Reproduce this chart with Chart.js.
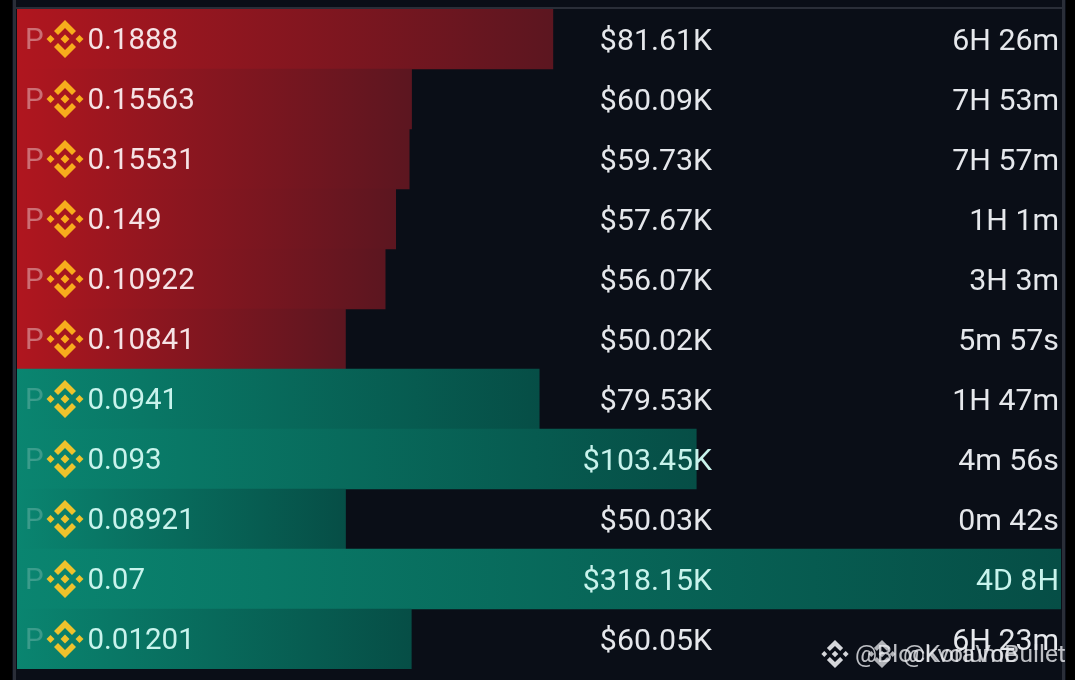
<!DOCTYPE html>
<html>
<head>
<meta charset="utf-8">
<style>
  html, body { margin: 0; padding: 0; background: #000; overflow: hidden; }
  canvas { display: block; }
</style>
<script src="https://cdn.jsdelivr.net/npm/chart.js@4"></script>
</head>
<body>
<canvas id="liq-chart" width="1075" height="680"></canvas>
<script>
// Chart Variables
const prices = ["0.1888", "0.15563", "0.15531", "0.149", "0.10922", "0.10841", "0.0941", "0.093", "0.08921", "0.07", "0.01201"];
const volumes = [81.61, 60.09, 59.73, 57.67, 56.07, 50.02, 79.53, 103.45, 50.03, 318.15, 60.05];
const times = ["6H 26m", "7H 53m", "7H 57m", "1H 1m", "3H 3m", "5m 57s", "1H 47m", "4m 56s", "0m 42s", "4D 8H", "6H 23m"];
const sides = ["red", "red", "red", "red", "red", "red", "green", "green", "green", "green", "green"];
const watermarks = ["@Blockvolume", "@KoraVoBullet"];

const FONT = '29.5px Roboto, sans-serif';
const FONT_RIGHT = '30.3px Roboto, sans-serif';

// binance logo, made of 5 pieces
function drawLogo(ctx, cx, cy, s, color) {
    const k = s / 19;
    const poly = (pts) => {
        ctx.beginPath();
        pts.forEach((p, i) => {
            if (i == 0) ctx.moveTo(cx + p[0] * k, cy + p[1] * k);
            else ctx.lineTo(cx + p[0] * k, cy + p[1] * k);
        });
        ctx.closePath();
        ctx.fill();
    };
    ctx.fillStyle = color;
    poly([[0, -19], [11, -8], [7, -4], [0, -11], [-7, -4], [-11, -8]]);
    poly([[0, 19], [11, 8], [7, 4], [0, 11], [-7, 4], [-11, 8]]);
    poly([[0, -4.5], [4.5, 0], [0, 4.5], [-4.5, 0]]);
    poly([[-14.5, -4], [-10.5, 0], [-14.5, 4], [-18.5, 0]]);
    poly([[14.5, -4], [18.5, 0], [14.5, 4], [10.5, 0]]);
}

// dark panel behind the bars
const panel = {
    id: 'panel',
    beforeDraw(chart) {
        const ctx = chart.ctx;
        ctx.save();
        ctx.fillStyle = '#000';
        ctx.fillRect(0, 0, 1075, 680);
        ctx.fillStyle = '#0a0e17';
        ctx.fillRect(12, 0, 1054, 680);
        ctx.fillStyle = '#2a2e38';
        ctx.fillRect(13, 0, 3, 680);
        ctx.fillRect(1062, 0, 3, 680);
        ctx.fillRect(16, 7, 1046, 2);
        ctx.restore();
    }
};

const rowText = {
    id: 'rowText',
    afterDatasetsDraw(chart) {
        const ctx = chart.ctx;
        const y = chart.scales.y;
        const x = chart.scales.x;
        ctx.save();
        ctx.textBaseline = 'middle';
        prices.forEach((price, i) => {
            const cy = y.getPixelForValue(i);
            const isRed = sides[i] == 'red';
            const barEnd = x.getPixelForValue(Math.min(volumes[i], x.max));
            const onBar = (px) => px < barEnd;
            const tint = isRed ? '#f6e3e5' : '#c8f3ec';
            const plain = '#e6e8ec';

            ctx.font = FONT;
            ctx.textAlign = 'left';
            ctx.fillStyle = isRed ? 'rgba(255,255,255,0.38)' : 'rgba(255,255,255,0.2)';
            ctx.fillText('P', 25, cy + 3);
            drawLogo(ctx, 65, cy, 19, isRed ? '#f7ac1c' : '#eec22c');
            ctx.fillStyle = tint;
            ctx.fillText(price, 87.5, cy + 3);

            ctx.font = FONT_RIGHT;
            ctx.textAlign = 'right';
            ctx.fillStyle = onBar(650) ? tint : plain;
            ctx.fillText('$' + volumes[i].toFixed(2) + 'K', 712, cy + 3);
            ctx.fillStyle = onBar(1000) ? tint : plain;
            ctx.fillText(times[i], 1059, cy + 3);
        });

        // the two overlapping watermarks
        ctx.textAlign = 'left';
        ctx.font = '24.5px Roboto, sans-serif';
        ctx.fillStyle = 'rgba(235,236,240,0.8)';
        ctx.fillText(watermarks[0], 855, 656);
        ctx.fillText(watermarks[1], 903, 656);
        drawLogo(ctx, 835, 654, 14, 'rgba(235,236,240,0.9)');
        drawLogo(ctx, 882, 654, 14, 'rgba(235,236,240,0.75)');
        ctx.restore();
    }
};

function barGradient(context) {
    const chart = context.chart;
    if (!chart.chartArea) return '#000';
    const x = chart.scales.x;
    const end = x.getPixelForValue(Math.min(volumes[context.dataIndex], x.max));
    const g = chart.ctx.createLinearGradient(chart.chartArea.left, 0, end, 0);
    if (sides[context.dataIndex] == 'red') {
        g.addColorStop(0, '#b0161f');
        g.addColorStop(1, '#5c1620');
    } else {
        g.addColorStop(0, '#0a8570');
        g.addColorStop(1, '#064e46');
    }
    return g;
}

new Chart(document.getElementById('liq-chart'), {
    type: 'bar',
    data: {
        labels: prices,
        datasets: [{
            label: 'Volume',
            data: volumes,
            backgroundColor: barGradient,
            borderWidth: 0,
            barPercentage: 1,
            categoryPercentage: 1
        }]
    },
    options: {
        indexAxis: 'y',
        responsive: false,
        animation: false,
        layout: { padding: { left: 17, right: 14, top: 9, bottom: 11 } },
        plugins: {
            legend: { display: false },
            title: { display: false },
            tooltip: { enabled: false }
        },
        scales: {
            // the longest bar runs off the panel
            x: { display: false, min: 0, max: 159 },
            y: { display: false }
        }
    },
    plugins: [panel, rowText]
});
</script>
</body>
</html>
